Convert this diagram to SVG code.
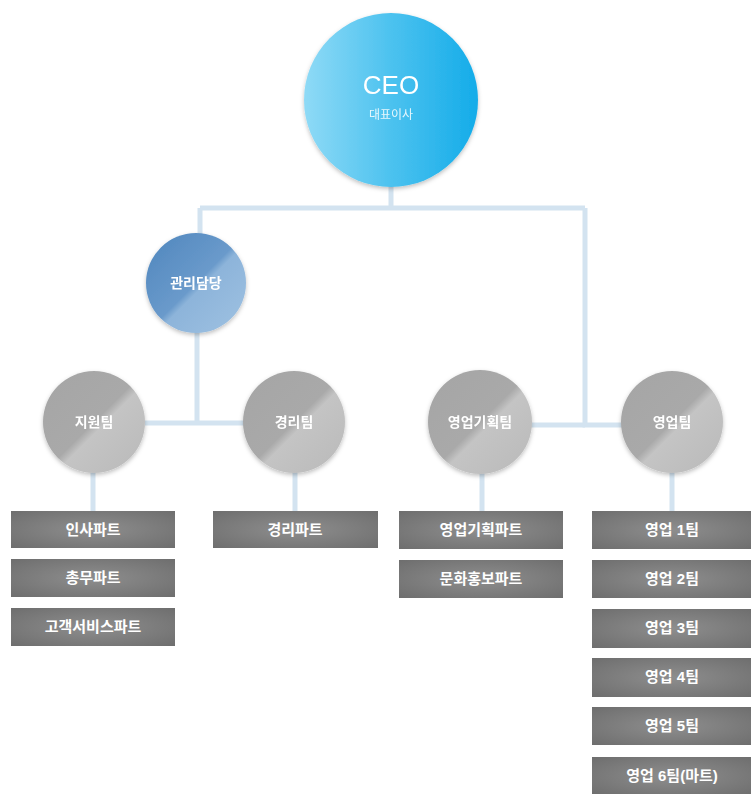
<svg xmlns="http://www.w3.org/2000/svg" width="751" height="794" viewBox="0 0 751 794">
<style>
.t{font-family:"Liberation Sans","Noto Sans CJK KR",sans-serif;font-weight:bold;fill:#fff;text-anchor:middle}
.ct{font-size:14px}
.bt{font-size:15px}
.conn{stroke:#d3e3f0;stroke-width:5;fill:none}
.box{fill:url(#gBox)}
</style>
<defs>
<linearGradient id="gCeo" x1="0" y1="0" x2="1" y2="0">
<stop offset="0" stop-color="#8fdaf6"/><stop offset="0.5" stop-color="#4cc2ef"/><stop offset="1" stop-color="#14ace9"/>
</linearGradient>
<linearGradient id="gMgr" x1="0" y1="0" x2="1" y2="1">
<stop offset="0" stop-color="#4f86bd"/><stop offset="0.5" stop-color="#6a9acb"/><stop offset="0.55" stop-color="#8db4da"/><stop offset="1" stop-color="#9fc2e2"/>
</linearGradient>
<linearGradient id="gTeam" x1="0" y1="0" x2="1" y2="1">
<stop offset="0" stop-color="#a5a5a5"/><stop offset="0.5" stop-color="#a9a9a9"/><stop offset="0.56" stop-color="#c4c4c4"/><stop offset="1" stop-color="#b9b9b9"/>
</linearGradient>
<radialGradient id="gBox" cx="0.5" cy="0.5" r="0.7">
<stop offset="0" stop-color="#8e8e8e"/><stop offset="1" stop-color="#6e6e6e"/>
</radialGradient>
<filter id="sh" x="-20%" y="-20%" width="140%" height="140%">
<feDropShadow dx="0" dy="2" stdDeviation="2" flood-color="#000" flood-opacity="0.25"/>
</filter>
</defs>
<g id="connectors">
<path class="conn" d="M391 186 V208 M200 208 H585 M200 208 V236 M585 208 V425 H622"/>
<path class="conn" d="M197 330 V423 M145 423 H244"/>
<path class="conn" d="M531 425 H585"/>
<path class="conn" d="M93 470 V512 M295 470 V512 M482 470 V512 M672 470 V512"/>
</g>
<g id="ceo" filter="url(#sh)">
<circle cx="391" cy="100" r="87" fill="url(#gCeo)"/>
<text x="391" y="94" class="t" style="font-weight:normal;font-size:26px">CEO</text>
<text x="391" y="119" class="t" style="font-weight:normal;font-size:12px;fill:#e6f7fd">대표이사</text>
</g>
<g id="mgr" filter="url(#sh)">
<circle cx="196" cy="283" r="50" fill="url(#gMgr)"/>
<text x="196" y="288" class="t ct">관리담당</text>
</g>
<g id="team1" filter="url(#sh)">
<circle cx="94" cy="422" r="51" fill="url(#gTeam)"/>
<text x="94" y="427" class="t ct">지원팀</text>
</g>
<g id="team2" filter="url(#sh)">
<circle cx="294" cy="422" r="51" fill="url(#gTeam)"/>
<text x="294" y="427" class="t ct">경리팀</text>
</g>
<g id="team3" filter="url(#sh)">
<circle cx="480" cy="422" r="52" fill="url(#gTeam)"/>
<text x="480" y="427" class="t ct">영업기획팀</text>
</g>
<g id="team4" filter="url(#sh)">
<circle cx="672" cy="422" r="51" fill="url(#gTeam)"/>
<text x="672" y="427" class="t ct">영업팀</text>
</g>
<g id="p1"><rect class="box" x="11" y="511" width="164" height="37"/><text x="93" y="535" class="t bt">인사파트</text></g>
<g id="p2"><rect class="box" x="11" y="559" width="164" height="38"/><text x="93" y="583" class="t bt">총무파트</text></g>
<g id="p3"><rect class="box" x="11" y="608" width="164" height="38"/><text x="93" y="632" class="t bt">고객서비스파트</text></g>
<g id="p4"><rect class="box" x="213" y="511" width="165" height="37"/><text x="295" y="535" class="t bt">경리파트</text></g>
<g id="p5"><rect class="box" x="399" y="511" width="164" height="38"/><text x="481" y="535" class="t bt">영업기획파트</text></g>
<g id="p6"><rect class="box" x="399" y="560" width="164" height="38"/><text x="481" y="584" class="t bt">문화홍보파트</text></g>
<g id="s1"><rect class="box" x="592" y="511" width="160" height="38"/><text x="672" y="535" class="t bt">영업 1팀</text></g>
<g id="s2"><rect class="box" x="592" y="560" width="160" height="38"/><text x="672" y="584" class="t bt">영업 2팀</text></g>
<g id="s3"><rect class="box" x="592" y="609" width="160" height="39"/><text x="672" y="633" class="t bt">영업 3팀</text></g>
<g id="s4"><rect class="box" x="592" y="658" width="160" height="39"/><text x="672" y="682" class="t bt">영업 4팀</text></g>
<g id="s5"><rect class="box" x="592" y="707" width="160" height="38"/><text x="672" y="731" class="t bt">영업 5팀</text></g>
<g id="s6"><rect class="box" x="592" y="757" width="160" height="38"/><text x="672" y="781" class="t bt">영업 6팀(마트)</text></g>
</svg>
